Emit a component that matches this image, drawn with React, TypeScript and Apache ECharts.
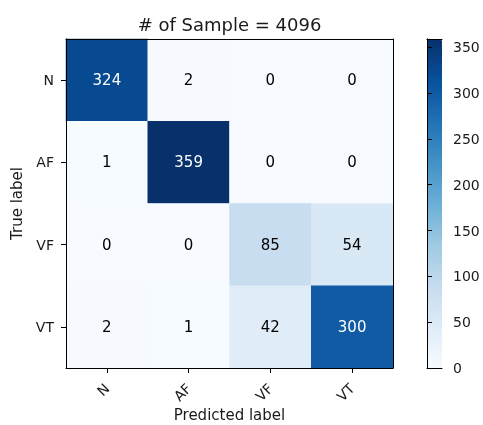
import React, { useEffect, useRef } from 'react';
import * as echarts from 'echarts';

const classes = ['N', 'AF', 'VF', 'VT'];
const rowN = [324, 2, 0, 0];
const rowAF = [1, 359, 0, 0];
const rowVF = [0, 0, 85, 54];
const rowVT = [2, 1, 42, 300];
const matrix = [rowN, rowAF, rowVF, rowVT];
const colorbarTicks = [0, 50, 100, 150, 200, 250, 300, 350];
const titleText = '# of Sample = 4096';
const xName = 'Predicted label';
const yName = 'True label';

const BLUES = ['#f7fbff', '#deebf7', '#c6dbef', '#9ecae1', '#6baed6', '#4292c6', '#2171b5', '#08519c', '#08306b'];
const FONT = 'DejaVu Sans';
const TXT = '#1a1a1a';

export default function App() {
  const ref = useRef<HTMLDivElement>(null);
  useEffect(() => {
    const chart = echarts.init(ref.current!, null, { renderer: 'svg' });
    const maxV = Math.max(...matrix.flat());
    const thresh = maxV / 2;
    const data: any[] = [];
    matrix.forEach((row, i) =>
      row.forEach((v, j) =>
        data.push({ value: [j, i, v], label: { color: v > thresh ? '#ffffff' : '#000000' } })
      )
    );
    const lineOnly = (extra: any) => ({
      show: true,
      axisLine: { show: true, onZero: false, lineStyle: { color: '#000', width: 1 } },
      axisTick: { show: false },
      axisLabel: { show: false },
      splitLine: { show: false },
      z: 10,
      ...extra,
    });
    chart.setOption({
      animation: false,
      textStyle: { fontFamily: FONT },
      title: {
        text: titleText,
        left: 229.5,
        textAlign: 'center',
        top: 15,
        padding: 0,
        textStyle: { fontSize: 18, fontWeight: 'normal', color: TXT, fontFamily: FONT },
      },
      grid: [
        { left: 66, top: 39, width: 327, height: 329, containLabel: false, outerBoundsMode: 'none' },
        { left: 427, top: 39, width: 15, height: 329, containLabel: false, outerBoundsMode: 'none' },
      ],
      xAxis: [
        {
          type: 'category',
          gridIndex: 0,
          data: classes,
          position: 'bottom',
          name: xName,
          nameLocation: 'middle',
          nameGap: 39,
          nameMoveOverlap: false,
          nameTextStyle: { fontSize: 15, lineHeight: 15, color: TXT, fontFamily: FONT },
          axisLine: { show: true, lineStyle: { color: '#000', width: 1 } },
          axisTick: { show: true, alignWithLabel: true, length: 5, lineStyle: { color: '#000' } },
          axisLabel: { rotate: 45, margin: 18, fontSize: 14, color: TXT, fontFamily: FONT },
          splitLine: { show: false },
          splitArea: { show: false },
          z: 10,
        },
        lineOnly({ type: 'category', gridIndex: 0, data: classes, position: 'top' }),
        lineOnly({ type: 'value', gridIndex: 1, position: 'bottom', min: 0, max: 1 }),
        lineOnly({ type: 'value', gridIndex: 1, position: 'top', min: 0, max: 1 }),
      ],
      yAxis: [
        {
          type: 'category',
          gridIndex: 0,
          data: classes,
          inverse: true,
          position: 'left',
          name: yName,
          nameLocation: 'middle',
          nameGap: 42,
          nameMoveOverlap: false,
          nameRotate: 90,
          nameTextStyle: { fontSize: 15, color: TXT, fontFamily: FONT },
          axisLine: { show: true, lineStyle: { color: '#000', width: 1 } },
          axisTick: { show: true, alignWithLabel: true, length: 5, lineStyle: { color: '#000' } },
          axisLabel: { margin: 12, fontSize: 14, color: TXT, fontFamily: FONT },
          splitLine: { show: false },
          splitArea: { show: false },
          z: 10,
        },
        lineOnly({ type: 'category', gridIndex: 0, data: classes, inverse: true, position: 'right' }),
        {
          type: 'value',
          gridIndex: 1,
          position: 'right',
          min: 0,
          max: maxV,
          interval: 50,
          axisLine: { show: true, lineStyle: { color: '#000', width: 1 } },
          axisTick: { show: true, length: 5, customValues: colorbarTicks, lineStyle: { color: '#000' } },
          axisLabel: {
            show: true,
            margin: 11,
            fontSize: 14,
            color: TXT,
            fontFamily: FONT,
            customValues: colorbarTicks,
            formatter: (v: number) => (colorbarTicks.includes(v) ? String(v) : ''),
          },
          splitLine: { show: false },
          z: 10,
        },
        lineOnly({ type: 'value', gridIndex: 1, position: 'left', min: 0, max: 1 }),
      ],
      visualMap: {
        type: 'continuous',
        min: 0,
        max: maxV,
        seriesIndex: 0,
        calculable: false,
        orient: 'vertical',
        left: 427,
        top: 39,
        padding: 0,
        itemWidth: 15,
        itemHeight: 329,
        inRange: { color: BLUES },
        textStyle: { color: 'transparent' },
      },
      series: [
        {
          type: 'heatmap',
          xAxisIndex: 0,
          yAxisIndex: 0,
          data,
          z: 1,
          label: { show: true, fontSize: 15, fontFamily: FONT },
          itemStyle: { borderWidth: 0 },
          emphasis: { disabled: true },
        },
      ],
    });
    return () => chart.dispose();
  }, []);
  return <div ref={ref} style={{ position: 'fixed', left: 0, top: 0, width: 483, height: 425 }} />;
}
